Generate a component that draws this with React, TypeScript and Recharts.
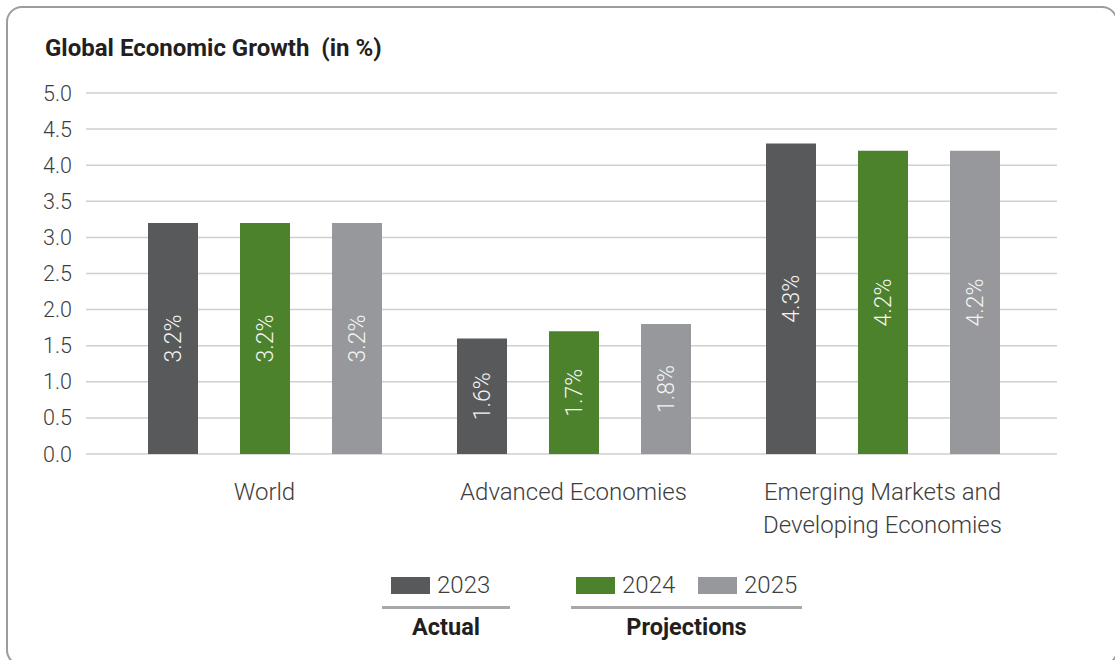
import { BarChart, Bar, XAxis, YAxis, CartesianGrid, LabelList } from "recharts";

const categories = ["World", "Advanced Economies", "Emerging Markets and\nDeveloping Economies"];
const growth2023 = [3.2, 1.6, 4.3];
const growth2024 = [3.2, 1.7, 4.2];
const growth2025 = [3.2, 1.8, 4.2];
const yTicks = [0, 0.5, 1, 1.5, 2, 2.5, 3, 3.5, 4, 4.5, 5];

const series = [
  { key: "y2023", name: "2023", color: "#58595b", values: growth2023 },
  { key: "y2024", name: "2024", color: "#4b822b", values: growth2024 },
  { key: "y2025", name: "2025", color: "#97989b", values: growth2025 },
];

const data = categories.map((c, i) => {
  const row: Record<string, string | number> = { name: c };
  series.forEach((s) => (row[s.key] = s.values[i]));
  return row;
});

const FONT = "Roboto, 'Noto Sans', sans-serif";

const YTick = (props: any) => {
  const { y, payload } = props;
  return (
    <text x={72} y={y} dy={7.5} textAnchor="end" fontSize={21.5} fontWeight={300} fill="#3d3d3d" fontFamily={FONT}>
      {Number(payload.value).toFixed(1)}
    </text>
  );
};

const XTick = (props: any) => {
  const { x, payload } = props;
  const lines = String(payload.value).split("\n");
  return (
    <g>
      {lines.map((l, i) => (
        <text key={i} x={x} y={500 + i * 33} textAnchor="middle" fontSize={24} fontWeight={300} fill="#3d3d3d" fontFamily={FONT}>
          {l}
        </text>
      ))}
    </g>
  );
};

const BarLabel = (props: any) => {
  const { x, y, width, height, value } = props;
  const cx = x + width / 2;
  const cy = y + height / 2;
  return (
    <text
      x={cx}
      y={cy}
      dy={8}
      textAnchor="middle"
      transform={`rotate(-90, ${cx}, ${cy})`}
      fontSize={23}
      fontWeight={300}
      fill="#f4f4f4"
      fontFamily={FONT}
    >
      {Number(value).toFixed(1)}%
    </text>
  );
};

const legendText = { position: "absolute" as const, top: 571, fontSize: 24, fontWeight: 300, color: "#3d3d3d", lineHeight: "28px" };
const groupText = { position: "absolute" as const, top: 613, textAlign: "center" as const, fontSize: 23.5, fontWeight: 700, color: "#231f20", lineHeight: "28px" };

export default function App() {
  return (
    <div style={{ position: "fixed", left: 0, top: 0, width: 1115, height: 660, background: "#fff", overflow: "hidden", fontFamily: FONT }}>
      {/* frame */}
      <div
        style={{
          position: "absolute",
          left: 6,
          top: 6,
          width: 1112,
          height: 660,
          border: "2px solid #9c9c9c",
          borderRadius: 16,
          boxSizing: "border-box",
        }}
      />
      <div style={{ position: "absolute", left: 45, top: 33, fontSize: 24, fontWeight: 700, color: "#231f20", whiteSpace: "pre", lineHeight: "30px" }}>
        {"Global Economic Growth  (in %)"}
      </div>

      <div style={{ position: "absolute", left: 0, top: 0 }}>
        <BarChart width={1115} height={560} data={data} margin={{ top: 93, right: 58, bottom: 16, left: 0 }} barSize={50} barGap={42}>
          <CartesianGrid vertical={false} stroke="#cfcfcf" strokeWidth={1.5} />
          <XAxis
            dataKey="name"
            axisLine={false}
            tickLine={false}
            interval={0}
            height={90}
            padding={{ left: 24, right: 20 }}
            tick={<XTick />}
          />
          <YAxis domain={[0, 5]} ticks={yTicks} axisLine={false} tickLine={false} width={86} tick={<YTick />} />
          {series.map((s) => (
            <Bar key={s.key} dataKey={s.key} fill={s.color} isAnimationActive={false}>
              <LabelList dataKey={s.key} content={<BarLabel />} />
            </Bar>
          ))}
        </BarChart>
      </div>

      {/* legend */}
      <div style={{ position: "absolute", left: 391, top: 577, width: 39, height: 17, background: series[0].color }} />
      <div style={{ ...legendText, left: 437 }}>{series[0].name}</div>
      <div style={{ position: "absolute", left: 576, top: 577, width: 39, height: 17, background: series[1].color }} />
      <div style={{ ...legendText, left: 622 }}>{series[1].name}</div>
      <div style={{ position: "absolute", left: 698, top: 577, width: 39, height: 17, background: series[2].color }} />
      <div style={{ ...legendText, left: 744 }}>{series[2].name}</div>

      <div style={{ position: "absolute", left: 382, top: 606, width: 128, height: 3, background: "#a8a8aa" }} />
      <div style={{ position: "absolute", left: 571, top: 606, width: 231, height: 3, background: "#a8a8aa" }} />
      <div style={{ ...groupText, left: 372, width: 148 }}>Actual</div>
      <div style={{ ...groupText, left: 571, width: 231 }}>Projections</div>
    </div>
  );
}
